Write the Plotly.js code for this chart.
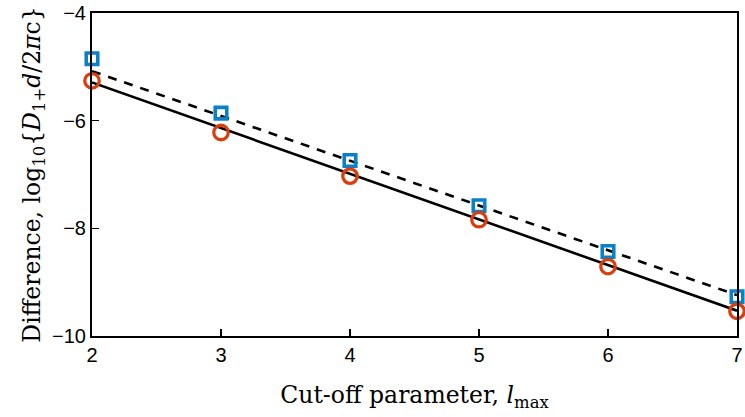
<!DOCTYPE html>
<html>
<head>
<meta charset="utf-8">
<script src="https://cdn.plot.ly/plotly-3.0.1.min.js"></script>
<style>html,body{margin:0;padding:0;background:#fff;}#chart{width:745px;height:417px;}</style>
</head>
<body>
<div id="chart"></div>
<script>
// Cut-off parameter l_max
const lmax = [2, 3, 4, 5, 6, 7];
// log10 differences
const circleVals = [-5.26, -6.22, -7.03, -7.84, -8.71, -9.54];
const squareVals = [-4.85, -5.86, -6.74, -7.58, -8.43, -9.27];
// fitted lines, evaluated at the axis ends
const fitX = [2, 7];
const solidFit = [-5.29, -9.53];
const dashedFit = [-5.08, -9.24];
const xTicks = [2, 3, 4, 5, 6, 7];
const yTicks = [-10, -8, -6, -4];
const yTickText = ['\u221210', '\u22128', '\u22126', '\u22124'];

const traces = [
  {x: fitX, y: dashedFit, mode: 'lines', line: {color: '#000', width: 2.6, dash: '9px,8px'}, cliponaxis: false, hoverinfo: 'skip'},
  {x: fitX, y: solidFit, mode: 'lines', line: {color: '#000', width: 2.6}, cliponaxis: false, hoverinfo: 'skip'},
  {x: lmax, y: squareVals, mode: 'markers', cliponaxis: false,
   marker: {symbol: 'square-open', size: 11.5, color: '#0b80c6', line: {width: 3.6, color: '#0b80c6'}}},
  {x: lmax, y: circleVals, mode: 'markers', cliponaxis: false,
   marker: {symbol: 'circle-open', size: 14.5, color: '#db3d0c', line: {width: 3.3, color: '#db3d0c'}}}
];

const titleFont = {family: 'DejaVu Serif, Liberation Serif, serif', size: 23.5, color: '#000'};

const layout = {
  width: 745, height: 417,
  margin: {l: 92, r: 8, t: 13, b: 81},
  showlegend: false,
  paper_bgcolor: '#fff', plot_bgcolor: '#fff',
  xaxis: {
    range: [2, 7], tickvals: xTicks, ticks: 'inside', ticklen: 7, tickwidth: 1.3, tickcolor: '#000',
    showline: true, linecolor: '#000', linewidth: 2, mirror: true, showgrid: false, zeroline: false,
    tickfont: {family: 'Liberation Sans, Arial, sans-serif', size: 20, color: '#000'},
    title: {text: 'Cut-off parameter, <i>l</i><sub>max</sub>', font: titleFont, standoff: 22}
  },
  yaxis: {
    range: [-10, -4], tickvals: yTicks, ticktext: yTickText, ticks: 'inside', ticklen: 7, tickwidth: 1.3, tickcolor: '#000',
    showline: true, linecolor: '#000', linewidth: 2, mirror: true, showgrid: false, zeroline: false,
    tickfont: {family: 'Liberation Sans, Arial, sans-serif', size: 20, color: '#000'},
    title: {text: 'Difference, log<sub>10</sub>{<i>D</i><sub>1+</sub><i>d</i>/2<i>\u03C0</i>c}', font: titleFont, standoff: 5}
  }
};

Plotly.newPlot('chart', traces, layout, {staticPlot: true});
</script>
</body>
</html>
